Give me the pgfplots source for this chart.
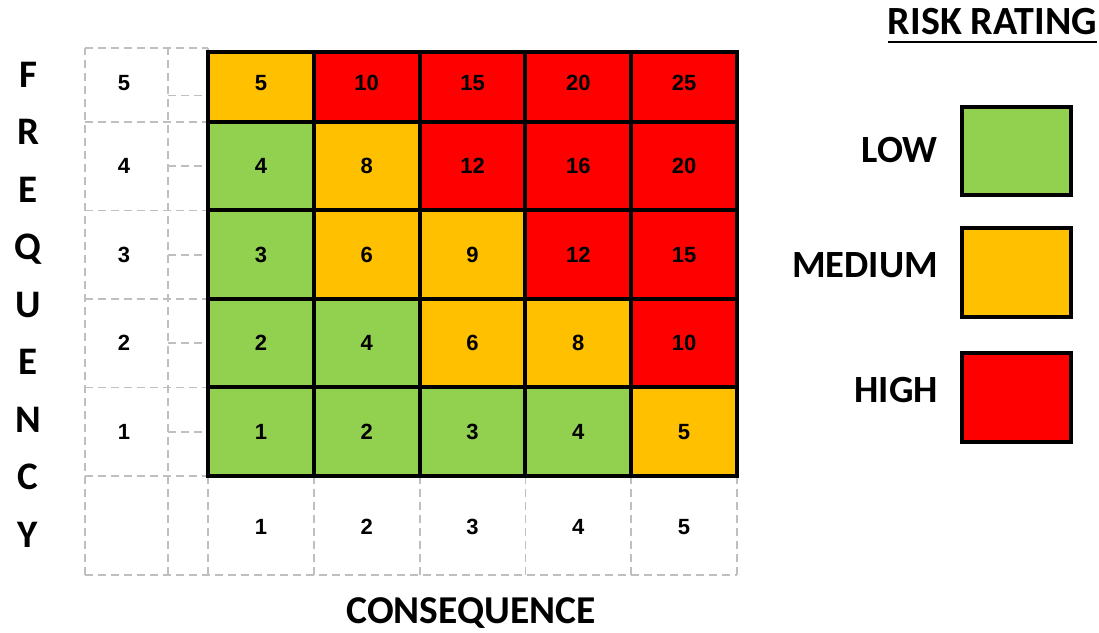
\documentclass[border=0pt]{standalone}
\usepackage{fontspec}
\setmainfont{Carlito}
\newfontfamily\arialfont{Liberation Sans}
\usepackage{pgfplots}
\pgfplotsset{compat=1.18}
\usepackage{pgfplotstable}

\definecolor{low}{HTML}{92D050}
\definecolor{med}{HTML}{FFC000}
\definecolor{high}{HTML}{FF0000}
\definecolor{dashgray}{HTML}{BFBFBF}

\pgfplotstableread{
x y v
1 4.94 5
2 4.94 10
3 4.94 15
4 4.94 20
5 4.94 25
1 4 4
2 4 8
3 4 12
4 4 16
5 4 20
1 3 3
2 3 6
3 3 9
4 3 12
5 3 15
1 2 2
2 2 4
3 2 6
4 2 8
5 2 10
1 1 1
2 1 2
3 1 3
4 1 4
5 1 5
}\cellvalues

\pgfplotstableread{
x y v
-0.294 4.94 5
-0.294 4 4
-0.294 3 3
-0.294 2 2
-0.294 1 1
1 -0.076 1
2 -0.076 2
3 -0.076 3
4 -0.076 4
5 -0.076 5
}\ticklabels

\newcommand{\cell}[5]{\addplot[fill=#5, draw=black, line width=4pt, line join=miter, forget plot] coordinates {(#1,#3) (#2,#3) (#2,#4) (#1,#4)} -- cycle;}
\newcommand{\dl}[4]{\addplot[dashgray, line width=1.8pt, dash pattern=on 8pt off 5pt, forget plot] coordinates {(#1,#2) (#3,#4)};}

\begin{document}
\begin{tikzpicture}
\begin{axis}[
  x=105.8pt, y=88.5pt,
  xmin=-1.466, xmax=8.9215, ymin=-1.274, ymax=5.8785,
  hide axis, clip=false,
]
% dashed frame
\dl{-0.663}{-0.619}{-0.663}{5.336}
\dl{0.122}{-0.619}{0.122}{5.336}
\dl{0.5}{-0.619}{0.5}{5.336}
\dl{1.5}{-0.619}{1.5}{0.5}
\dl{2.5}{-0.619}{2.5}{0.5}
\dl{3.5}{-0.619}{3.5}{0.5}
\dl{4.5}{-0.619}{4.5}{0.5}
\dl{5.5}{-0.619}{5.5}{0.5}
\dl{-0.663}{5.336}{0.5}{5.336}
\dl{-0.663}{4.5}{0.5}{4.5}
\dl{-0.663}{3.5}{0.5}{3.5}
\dl{-0.663}{2.5}{0.5}{2.5}
\dl{-0.663}{1.5}{0.5}{1.5}
\dl{-0.663}{0.5}{0.5}{0.5}
\dl{-0.663}{-0.619}{5.5}{-0.619}
\dl{0.122}{4.8}{0.5}{4.8}
\dl{0.122}{4}{0.5}{4}
\dl{0.122}{3}{0.5}{3}
\dl{0.122}{2}{0.5}{2}
\dl{0.122}{1}{0.5}{1}

% cells: row 1
\cell{0.5}{1.5}{0.5}{1.5}{low}
\cell{1.5}{2.5}{0.5}{1.5}{low}
\cell{2.5}{3.5}{0.5}{1.5}{low}
\cell{3.5}{4.5}{0.5}{1.5}{low}
\cell{4.5}{5.5}{0.5}{1.5}{med}
% row 2
\cell{0.5}{1.5}{1.5}{2.5}{low}
\cell{1.5}{2.5}{1.5}{2.5}{low}
\cell{2.5}{3.5}{1.5}{2.5}{med}
\cell{3.5}{4.5}{1.5}{2.5}{med}
\cell{4.5}{5.5}{1.5}{2.5}{high}
% row 3
\cell{0.5}{1.5}{2.5}{3.5}{low}
\cell{1.5}{2.5}{2.5}{3.5}{med}
\cell{2.5}{3.5}{2.5}{3.5}{med}
\cell{3.5}{4.5}{2.5}{3.5}{high}
\cell{4.5}{5.5}{2.5}{3.5}{high}
% row 4
\cell{0.5}{1.5}{3.5}{4.5}{low}
\cell{1.5}{2.5}{3.5}{4.5}{med}
\cell{2.5}{3.5}{3.5}{4.5}{high}
\cell{3.5}{4.5}{3.5}{4.5}{high}
\cell{4.5}{5.5}{3.5}{4.5}{high}
% row 5
\cell{0.5}{1.5}{4.5}{5.29}{med}
\cell{1.5}{2.5}{4.5}{5.29}{high}
\cell{2.5}{3.5}{4.5}{5.29}{high}
\cell{3.5}{4.5}{4.5}{5.29}{high}
\cell{4.5}{5.5}{4.5}{5.29}{high}
% outer border
\addplot[draw=black, line width=4.5pt, line join=miter, forget plot] coordinates {(0.5,0.5) (5.5,0.5) (5.5,5.29) (0.5,5.29)} -- cycle;

% legend boxes
\cell{7.627}{8.657}{3.675}{4.669}{low}
\cell{7.627}{8.657}{2.297}{3.302}{med}
\cell{7.627}{8.657}{0.884}{1.890}{high}

% values
\addplot[only marks, mark=none, nodes near coords, point meta=explicit symbolic,
  nodes near coords style={font=\arialfont\bfseries\fontsize{22}{26}\selectfont, anchor=center, inner sep=0pt}]
  table[meta=v] {\cellvalues};
\addplot[only marks, mark=none, nodes near coords, point meta=explicit symbolic,
  nodes near coords style={font=\arialfont\bfseries\fontsize{22}{26}\selectfont, anchor=center, inner sep=0pt}]
  table[meta=v] {\ticklabels};

% texts
\node[anchor=north, align=center, inner sep=0pt, font=\bfseries\fontsize{39}{57.5}\selectfont] at (axis cs:-1.201,5.178) {F\\R\\E\\Q\\U\\E\\N\\C\\Y};
\node[anchor=base, inner sep=0pt, font=\bfseries\fontsize{39.5}{44}\selectfont] at (axis cs:2.986,-1.172) {CONSEQUENCE};
\node[anchor=base east, inner sep=0pt, font=\bfseries\fontsize{40}{44}\selectfont] (rr) at (axis cs:8.903,5.483) {RISK RATING};
\draw[line width=2pt] ([yshift=-7pt]rr.base west) -- ([yshift=-7pt]rr.base east);
\node[anchor=east, inner sep=0pt, font=\bfseries\fontsize{38.5}{44}\selectfont] at (axis cs:7.40,4.184) {LOW};
\node[anchor=east, inner sep=0pt, font=\bfseries\fontsize{38.5}{44}\selectfont] at (axis cs:7.40,2.884) {MEDIUM};
\node[anchor=east, inner sep=0pt, font=\bfseries\fontsize{38.5}{44}\selectfont] at (axis cs:7.40,1.472) {HIGH};
\path (axis cs:-1.466,-1.274) rectangle (axis cs:8.9215,5.8785);
\end{axis}
\end{tikzpicture}
\end{document}
